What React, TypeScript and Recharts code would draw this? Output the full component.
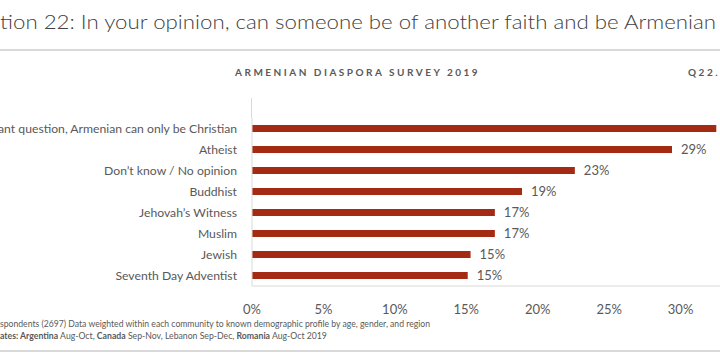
import { BarChart, Bar, XAxis, YAxis, LabelList } from "recharts";

const categories = [
  "Not a relevant question, Armenian can only be Christian",
  "Atheist",
  "Don\u2019t know / No opinion",
  "Buddhist",
  "Jehovah\u2019s Witness",
  "Muslim",
  "Jewish",
  "Seventh Day Adventist",
];

const shares = [32.5, 29.4, 22.6, 18.9, 17.0, 17.0, 15.3, 15.1];

const xTicks = [0, 5, 10, 15, 20, 25, 30];

const data = categories.map((name, i) => ({ name, value: shares[i] }));

const gray = "#595959";
const rule = "#d9d9d9";
const font = "Lato, 'Open Sans', sans-serif";

// single-line category label, right aligned against the axis
const CategoryTick = (props: any) => {
  const { x, y, payload } = props;
  return (
    <text
      x={x}
      y={y}
      dy="0.35em"
      textAnchor="end"
      fill={gray}
      fontSize={12.2}
      fontFamily={font}
    >
      {payload.value}
    </text>
  );
};

export default function App() {
  return (
    <div
      style={{
        position: "fixed",
        left: 0,
        top: 0,
        width: 720,
        height: 363,
        overflow: "hidden",
        background: "#fff",
        fontFamily: font,
      }}
    >
      <svg width={720} height={363} style={{ position: "absolute", left: 0, top: 0 }}>
        <text
          x={0}
          y={28.5}
          fontSize={20}
          fontWeight={300}
          fill="#404040"
          textLength={716}
          lengthAdjust="spacingAndGlyphs"
          fontFamily={font}
        >
          tion 22: In your opinion, can someone be of another faith and be Armenian
        </text>
        <rect x={0} y={49} width={720} height={2} fill={rule} />
        <text
          x={235}
          y={76}
          fontSize={10}
          fontWeight="bold"
          fill={gray}
          letterSpacing={2.5}
          fontFamily={font}
        >
          ARMENIAN DIASPORA SURVEY 2019
        </text>
        <text
          x={688}
          y={76}
          fontSize={10}
          fontWeight="bold"
          fill={gray}
          letterSpacing={2.5}
          fontFamily={font}
        >
          Q22.
        </text>
        <rect x={251} y={98} width={1} height={20} fill={rule} />
        <text
          x={0}
          y={327}
          fontSize={9.5}
          fill={gray}
          textLength={430}
          lengthAdjust="spacingAndGlyphs"
          fontFamily={font}
        >
          spondents (2697) Data weighted within each community to known demographic profile by age, gender, and region
        </text>
        <text x={0} y={339} fontSize={8.7} fill={gray} fontFamily={font}>
          <tspan fontWeight="bold">ates: Argentina</tspan> Aug-Oct,{" "}
          <tspan fontWeight="bold">Canada</tspan> Sep-Nov, Lebanon Sep-Dec,{" "}
          <tspan fontWeight="bold">Romania</tspan> Aug-Oct 2019
        </text>
        <rect x={0} y={350} width={720} height={2} fill={rule} />
      </svg>

      <div style={{ position: "absolute", left: 0, top: 0 }}>
        <BarChart
          width={780}
          height={363}
          data={data}
          layout="vertical"
          margin={{ top: 118, right: 28, bottom: 47, left: 0 }}
          barSize={7}
        >
          <XAxis
            type="number"
            domain={[0, 35]}
            ticks={xTicks}
            tickFormatter={(v) => `${v}%`}
            axisLine={{ stroke: rule }}
            tickLine={false}
            tickSize={0}
            tickMargin={19}
            height={30}
            tick={{ fill: gray, fontSize: 13, fontFamily: font }}
            interval={0}
          />
          <YAxis
            type="category"
            dataKey="name"
            width={252}
            axisLine={{ stroke: rule }}
            tickLine={false}
            tickSize={0}
            tickMargin={15}
            tick={<CategoryTick />}
            interval={0}
          />
          <Bar dataKey="value" fill="#A52A13" isAnimationActive={false}>
            <LabelList
              dataKey="value"
              position="right"
              offset={9}
              formatter={(v: any) => `${Math.round(Number(v))}%`}
              style={{ fill: gray, fontSize: 13, fontFamily: font }}
            />
          </Bar>
        </BarChart>
      </div>
    </div>
  );
}
